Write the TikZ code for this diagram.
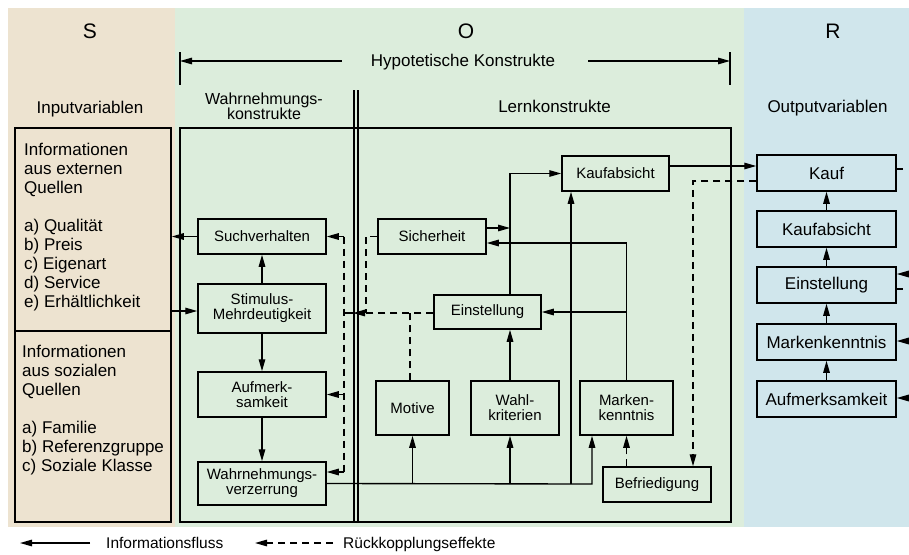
\documentclass[tikz,border=0pt]{standalone}
\usepackage{fontspec}
\setmainfont{Liberation Sans}
\usetikzlibrary{arrows.meta}
\definecolor{sbg}{RGB}{237,227,208}
\definecolor{obg}{RGB}{220,237,220}
\definecolor{rbg}{RGB}{208,230,236}
\tikzset{
  box/.style={draw, line width=1.5pt, inner sep=0pt, align=center, font=\fontsize{15}{15}\selectfont},
  rbox/.style={box, font=\fontsize{17}{17}\selectfont, minimum width=139pt, minimum height=36pt},
  conn/.style={line width=1.35pt},
  arr/.style={conn, -{Triangle[length=12pt,width=6.5pt]}},
  dsh/.style={conn, dash pattern=on 7pt off 5pt},
  darr/.style={dsh, -{Triangle[length=12pt,width=6.5pt]}},
  title/.style={inner sep=0pt, anchor=base, font=\fontsize{21}{21}\selectfont},
  head/.style={inner sep=0pt, anchor=base, font=\fontsize{17}{17}\selectfont},
  legtext/.style={inner sep=0pt, anchor=base west, font=\fontsize{15.5}{15.5}\selectfont},
}
\begin{document}
\begin{tikzpicture}[x=1pt,y=-1pt]
\useasboundingbox (0,0) rectangle (909,554);
% backgrounds
\fill[sbg] (8,8) rectangle (175,527);
\fill[obg] (175,8) rectangle (744,527);
\fill[rbg] (744,8) rectangle (909,527);
% titles
\node[title] (tS) at (90,38) {S};
\node[title] (tO) at (466,38) {O};
\node[title] (tR) at (833,38) {R};
% hypothetical constructs
\node[head] (hk) at (463,66.5) {Hypotetische Konstrukte};
\coordinate (hL) at (180,61);
\coordinate (hR) at (730,61);
\draw[conn] (180,52) -- (180,85);
\draw[conn] (730,52) -- (730,85);
\draw[arr] ([xshift=-29pt]hk.base west |- hL) -- (hL);
\draw[arr] ([xshift=33pt]hk.base east |- hR) -- (hR);
% headings
\node[head] (hin) at (90,113.5) {Inputvariablen};
\node[inner sep=0pt, align=center, font=\fontsize{16}{15}\selectfont] (hwk) at (264,106) {Wahrnehmungs-\\konstrukte};
\node[head] (hlk) at (554.5,112.5) {Lernkonstrukte};
\node[head] (hout) at (827.5,112.5) {Outputvariablen};
% S boxes
\node[draw, line width=1.5pt, minimum width=156pt, minimum height=203pt, inner sep=0pt] (ext) at (93,229.5) {};
\node[draw, line width=1.5pt, minimum width=156pt, minimum height=191pt, inner sep=0pt] (soz) at (93,426.5) {};
\node[anchor=north west, align=left, inner sep=0pt, font=\fontsize{17}{19}\selectfont] (extt) at (24,142.6)
  {Informationen\\aus externen\\Quellen\\[19pt]a) Qualität\\b) Preis\\c) Eigenart\\d) Service\\e) Erhältlichkeit};
\node[anchor=north west, align=left, inner sep=0pt, font=\fontsize{17}{19}\selectfont] (sozt) at (22,344.6)
  {Informationen\\aus sozialen\\Quellen\\[19pt]a) Familie\\b) Referenzgruppe\\c) Soziale Klasse};
% O frame and double line
\draw[line width=1.5pt] (180,128) rectangle (731,522);
\draw[conn] (354,90) -- (354,522);
\draw[conn] (358,90) -- (358,522);
% perception boxes
\node[box, minimum width=128pt, minimum height=35pt] (Su) at (262,236.5) {Suchverhalten};
\node[box, minimum width=128pt, minimum height=49pt] (St) at (262,308.5) {Stimulus-\\Mehrdeutigkeit};
\node[box, minimum width=128pt, minimum height=45pt] (Au) at (262,394.5) {Aufmerk-\\samkeit};
\node[box, minimum width=128pt, minimum height=43pt] (Wv) at (262,483.5) {Wahrnehmungs-\\verzerrung};
% learning boxes
\node[box, minimum width=108pt, minimum height=35pt] (Si) at (432,236.5) {Sicherheit};
\node[box, minimum width=107pt, minimum height=34pt] (Ei) at (487.5,312) {Einstellung};
\node[box, minimum width=107pt, minimum height=35pt] (Ka) at (615.5,173.5) {Kaufabsicht};
\node[box, minimum width=73pt, minimum height=54pt] (Mo) at (412.5,408) {Motive};
\node[box, minimum width=88pt, minimum height=54pt] (Wk) at (515,408) {Wahl-\\kriterien};
\node[box, minimum width=93pt, minimum height=54pt] (Mk) at (626.5,408) {Marken-\\kenntnis};
\node[box, minimum width=108pt, minimum height=35pt] (Be) at (657,484.5) {Befriedigung};
% R boxes
\node[rbox] (RKf) at (826.5,173) {Kauf};
\node[rbox] (RKa) at (826.5,229) {Kaufabsicht};
\node[rbox] (REi) at (826.5,285) {Einstellung};
\node[rbox] (RMk) at (826.5,342) {Markenkenntnis};
\node[rbox] (RAu) at (826.5,399) {Aufmerksamkeit};
% S <-> perception
\draw[arr] (Su.west) -- (Su.west -| ext.east);
\draw[arr] ([yshift=-2.5pt]St.west -| ext.east) -- ([yshift=-2.5pt]St.west);
\draw[arr] (St.north) -- (Su.south);
\draw[arr] (St.south) -- (Au.north);
\draw[arr] (Au.south) -- (Wv.north);
% feedback into perception
\coordinate (fT) at (344,236.5);
\coordinate (fB) at (344,472);
\draw[dsh] (fT) -- (fB);
\draw[arr] (fT) -- (Su.east);
\draw[arr] (Au.east -| fT) -- (Au.east);
\draw[arr] (fB) -- (fB -| Wv.east);
\coordinate (eA) at (353,313);
\draw[darr] ([yshift=-1pt]Ei.west) -- (eA);
\draw[conn] (eA) -- (eA -| fT);
\coordinate (sD) at (366,313);
\draw[dsh] (Si.west) -- (Si.west -| sD) -- (sD);
\coordinate (mD) at (410,313);
\draw[dsh] (Mo.north -| mD) -- (mD);
% information flow bottom line
\coordinate (jM) at (592,484);
\coordinate (jK) at (571,484);
\coordinate (jW) at (510,484);
\draw[arr] (Wv.east) -- (jM) -- (jM |- Mk.south);
\draw[arr] (Mo.south |- jM) -- (Mo.south);
\draw[arr] (jW) -- (jW |- Wk.south);
\draw[arr] (jK) -- (jK |- Ka.south);
\draw[arr] (Wk.north -| jW) -- (jW |- Ei.south);
\draw[arr] (Ei.north -| jW) -- (jW |- Ka.west) -- (Ka.west);
\coordinate (sO) at ([yshift=8.5pt]Si.east);
\draw[arr] (sO) -- (sO -| jW);
\coordinate (sI) at ([yshift=-6.5pt]Si.east);
\draw[arr] (Mk.north) -- (Mk.north |- sI) -- (sI);
\draw[arr] (Mk.north |- Ei.east) -- (Ei.east);
\draw[darr] (Mk.south |- Be.north) -- (Mk.south);
% to R
\coordinate (kO) at ([yshift=7.5pt]Ka.east);
\draw[arr] (kO) -- (kO -| RKf.west);
\coordinate (kB) at ([yshift=-8pt]RKf.west);
\coordinate (bT) at ([xshift=36pt]Be.north);
\draw[darr] (kB) -- (kB -| bT) -- (bT);
% R chain
\draw[arr] (RAu.north) -- (RMk.south);
\draw[arr] (RMk.north) -- (REi.south);
\draw[arr] (REi.north) -- (RKa.south);
\draw[arr] (RKa.north) -- (RKf.south);
% right stubs
\coordinate (rs1) at (903,169);
\draw[conn] (rs1 -| RKf.east) -- (rs1);
\coordinate (rs2) at (909,274);
\draw[arr] (rs2) -- (rs2 -| REi.east);
\coordinate (rs3) at (903,289);
\draw[conn] (rs3 -| REi.east) -- (rs3);
\coordinate (rs4) at (909,341);
\draw[arr] (rs4) -- (rs4 -| RMk.east);
\coordinate (rs5) at (909,398);
\draw[arr] (rs5) -- (rs5 -| RAu.east);
% legend
\coordinate (l1a) at (90,543);
\coordinate (l1b) at (20,543);
\draw[arr] (l1a) -- (l1b);
\node[legtext] (lt1) at (106,548) {Informationsfluss};
\coordinate (l2a) at (333,543);
\coordinate (l2b) at (255,543);
\draw[darr] (l2a) -- (l2b);
\node[legtext] (lt2) at (343,548) {Rückkopplungseffekte};
\end{tikzpicture}
\end{document}
